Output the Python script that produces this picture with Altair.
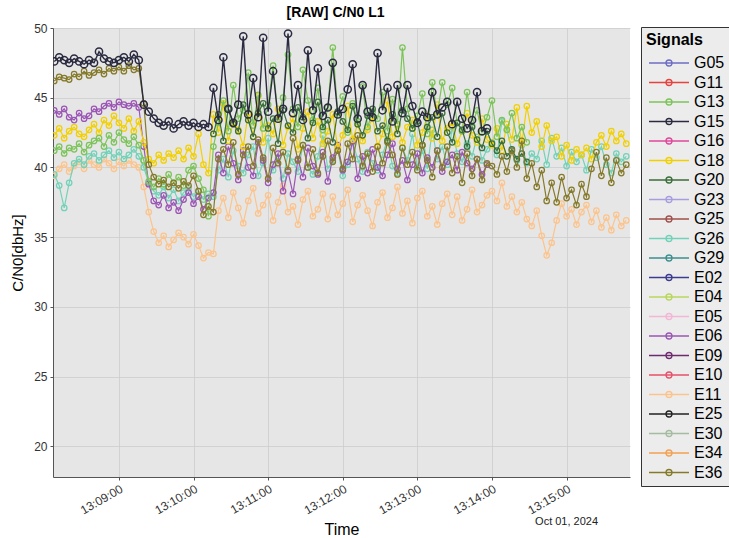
import altair as alt
import pandas as pd

FONT = "Liberation Sans"

SIGNALS = ["G05", "G11", "G13", "G15", "G16", "G18", "G20", "G23", "G25", "G26", "G29",
           "E02", "E04", "E05", "E06", "E09", "E10", "E11", "E25", "E30", "E34", "E36"]
COLORS = ["#6c6cc4", "#e8423f", "#7cc45a", "#2a2a40", "#e0489a", "#f2d000", "#3b6e3b",
          "#a79ee0", "#a0504a", "#72d2b8", "#3d8f8f", "#3b3b8f", "#b8d65c", "#f2b6d6",
          "#9b55b5", "#6e2a6e", "#e8506a", "#fcc48c", "#222222", "#a4bca0", "#f5a050",
          "#857a2a"]

START = "2024-10-01 13:08:08"   # first epoch
STEP_S = 4                      # seconds between samples

# C/N0 values [dB-Hz] per signal, consecutive epochs starting at the given epoch index
g15_start, g15 = 0, [
    47.6, 47.9, 47.7, 47.5, 47.8, 47.6, 47.4, 47.7, 47.5, 48.3, 47.8, 47.6, 47.5, 47.7, 47.9, 47.6, 48.1, 47.7,
    44.5, 44.0, 43.5, 43.2, 43.0, 43.3, 42.8, 43.1, 43.3, 43.0, 43.2, 42.9, 43.1, 42.9,
    45.7, 43.4, 47.9, 44.2, 43.2, 44.5, 49.4, 43.8, 46.4, 43.6, 49.3, 44.0, 46.9, 43.5, 44.2, 49.6,
    43.9, 45.9, 43.4, 48.4, 44.1, 47.1, 43.7, 44.3, 47.5, 43.8, 44.2, 45.6, 47.4, 43.5, 45.9, 44.0,
    43.6, 48.2, 44.1, 45.7, 43.3, 45.9, 43.9, 45.9, 44.4, 43.2, 44.0, 43.6, 45.4, 43.8, 44.3, 44.7,
    43.1, 44.7, 43.5, 42.8, 43.4, 45.4, 42.6, 42.8]
e36_start, e36 = 0, [
    46.2, 46.5, 46.4, 46.3, 46.7, 46.5, 46.9, 46.6, 46.8, 47.0, 46.7, 47.1, 46.9, 47.2, 46.9, 47.3, 47.0, 47.1,
    44.6, 40.2, 39.3, 38.8, 39.1, 38.6, 38.9, 38.5, 39.0, 38.7, 39.4, 38.3, 36.6, 37.2,
    36.8, 40.6, 41.3, 40.2, 41.8, 39.5, 40.9, 41.5, 40.1, 42.0, 40.7, 39.2, 41.4, 40.3, 41.1, 39.8,
    42.1, 40.5, 41.6, 40.0, 41.3, 39.6, 40.8, 41.9, 40.4, 41.2, 39.9, 41.7, 40.6, 42.3, 40.1, 41.0,
    39.7, 41.5, 40.3, 41.8, 40.9, 39.5, 41.4, 40.2, 41.1, 39.8, 41.6, 40.5, 39.3, 41.2, 40.0, 41.5,
    39.6, 40.8, 38.9, 41.0, 39.4, 40.6, 39.1, 40.3,
    40.1, 39.5, 40.8, 39.7, 41.2, 40.0, 41.9, 39.2, 40.3, 38.6, 39.8, 37.6, 38.9, 37.5, 39.3, 37.8,
    38.4, 37.3, 38.8, 37.9, 39.9, 41.1, 39.4, 40.7, 38.9, 40.5, 39.6, 40.2]
e06_start, e06 = 0, [
    44.1, 43.8, 44.2, 43.6, 43.4, 43.9, 43.5, 43.7, 44.2, 44.0, 44.4, 44.6, 44.3, 44.7, 44.5, 44.4, 44.6, 44.3,
    41.5, 38.8, 37.6, 37.3, 38.0, 37.1, 37.5, 36.9, 37.7, 38.2, 37.4, 37.9, 37.0, 37.8,
    38.2, 40.9, 39.6, 41.5, 40.3, 39.1, 41.2, 40.0, 39.4, 41.8, 40.5, 38.9, 40.2, 41.0, 38.3, 39.7,
    38.1, 40.6, 39.3, 41.4, 40.1, 39.5, 41.1, 39.0, 40.7, 41.6, 39.8, 40.4, 41.9, 39.2, 40.8, 39.6,
    41.3, 40.0, 39.4, 40.9, 41.7, 39.9, 40.5, 39.1, 40.2, 41.0, 39.6, 40.7, 40.0, 41.2, 39.7, 40.4,
    40.9, 39.8, 41.1, 40.3, 39.9, 40.6, 39.5, 40.2]
g18_start, g18 = 0, [
    42.3, 42.8, 42.1, 42.6, 42.9, 42.4, 42.2, 42.7, 43.1, 42.5, 43.4, 43.0, 43.7, 43.2, 42.8, 43.5, 42.6, 43.3,
    41.8, 40.6, 40.3, 40.9, 40.5, 41.0, 40.7, 41.2, 40.6, 41.4, 40.8, 42.4, 40.2, 39.6,
    43.8, 42.5, 44.6, 41.9, 43.2, 42.7, 41.5, 43.9, 42.2, 45.1, 41.8, 43.0, 42.4, 44.2, 41.6, 42.9,
    43.5, 41.3, 42.8, 44.0, 42.1, 43.3, 41.7, 42.6, 43.8, 41.4, 42.3, 44.4, 42.0, 43.1, 41.9, 42.7,
    43.6, 41.5, 42.4, 44.8, 42.2, 43.0, 41.8, 42.9, 43.4, 41.6, 42.5, 43.7, 42.1, 44.5, 41.9, 42.8,
    43.2, 41.7, 42.6, 43.9, 42.3, 41.8, 43.5, 42.0,
    41.6, 42.8, 41.2, 43.1, 42.0, 44.3, 41.7, 44.4, 42.5, 43.3, 41.5, 43.0, 41.9, 42.2, 40.8, 41.6,
    40.5, 41.3, 40.9, 41.4, 40.6, 41.8, 42.3, 41.5, 42.6, 41.9, 42.4, 41.7]
g13_start, g13 = 0, [
    41.2, 41.5, 41.0, 41.4, 41.3, 41.7, 41.1, 41.6, 41.9, 42.1, 41.5, 42.3, 41.8, 42.5, 42.0, 41.7, 42.2, 41.6,
    40.5, 39.0, 38.6, 39.2, 38.8, 39.5, 38.9, 39.3, 38.7, 39.8, 40.1, 39.2, 38.4, 36.5,
    41.5, 43.2, 44.8, 42.6, 45.9, 43.5, 44.1, 46.8, 43.0, 45.2, 42.8, 44.5, 47.3, 43.6, 45.0, 48.1,
    44.2, 42.9, 47.0, 44.8, 43.4, 45.7, 42.7, 44.3, 48.6, 43.9, 45.1, 42.5, 44.6, 43.3, 45.8, 42.9,
    44.0, 43.5, 45.4, 42.6, 44.9, 43.1, 48.6, 44.2, 42.8, 43.7, 45.3, 42.4, 46.1, 43.8, 46.1, 44.5,
    45.7, 43.2, 42.6, 45.4, 43.0, 44.1, 42.5, 43.6, 44.8, 42.2, 43.4, 42.7, 43.9, 42.1, 42.9, 41.8]
g26_start, g26 = 0, [
    39.5, 38.7, 37.1, 38.9, 40.3, 40.6, 40.2, 40.8, 41.0, 40.5, 40.9, 41.2, 40.7, 41.1, 40.6, 40.9, 41.3, 40.8,
    40.0, 38.9, 38.3, 38.0, 38.6, 37.8, 38.4, 37.6, 38.2, 38.5, 37.9, 38.3, 37.7, 38.1,
    37.9, 39.8, 40.6, 39.3, 41.2, 40.1, 39.6, 40.9, 41.5, 39.4, 40.3, 42.1, 39.8, 40.7, 39.2, 41.0,
    40.4, 39.7, 41.6, 40.0, 39.5, 40.8, 42.3, 39.9, 40.5, 41.3, 39.4, 40.2, 41.8, 40.6, 39.7, 41.1,
    40.3, 39.8, 40.9, 42.0, 40.1, 39.6, 41.4, 40.5, 42.4, 40.0, 41.2, 39.9, 42.7, 40.6, 41.5, 40.2,
    42.9, 41.0, 40.4, 41.7, 40.8, 42.2, 40.5, 41.3,
    41.8, 40.9, 43.3, 42.7, 41.2, 40.5, 41.6, 40.3, 41.0, 40.6, 41.9, 40.2, 42.1, 40.8, 41.4, 40.1,
    41.1, 40.4, 40.9, 39.8, 41.3, 40.7, 41.5, 40.2, 39.6, 41.0, 40.4, 40.8]
e11_start, e11 = 0, [
    39.4, 39.9, 40.2, 39.7, 40.1, 40.4, 39.9, 40.5, 40.2, 40.0, 40.6, 40.3, 39.9, 40.4, 40.1, 40.5, 40.2, 40.0,
    38.6, 36.8, 35.4, 34.6, 35.1, 34.3, 34.8, 35.3, 35.0, 34.5, 35.2, 34.4, 33.5, 33.9,
    33.8, 36.9, 37.8, 36.4, 38.2, 37.1, 36.0, 37.6, 38.5, 36.7, 37.3, 38.0, 36.2, 37.5, 38.7, 36.8,
    37.2, 35.9, 37.7, 38.3, 36.5, 37.0, 38.1, 36.3, 37.9, 36.6, 37.4, 38.4, 36.1, 37.3, 38.0, 36.9,
    35.8, 37.5, 38.2, 36.4, 37.1, 38.6, 36.7, 37.6, 36.0, 37.8, 38.3, 36.5, 37.2, 35.9, 37.4, 38.1,
    36.6, 37.9, 36.2, 37.0, 38.4, 36.8, 37.3, 38.0,
    38.3, 37.6, 38.9, 37.2, 37.9, 36.8, 37.5, 36.3, 35.8, 36.9, 35.1, 33.7, 34.6, 36.2, 37.4, 36.5,
    37.0, 35.9, 36.8, 37.3, 36.1, 36.9, 35.7, 36.4, 35.5, 36.6, 35.8, 36.2]
g20_start, g20 = 32, [
    42.4, 43.8, 41.9, 44.2, 43.1, 42.6, 44.5, 43.4, 42.2, 43.9, 44.6, 42.8, 43.5, 41.7, 44.1, 43.0,
    42.5, 44.3, 43.6, 42.1, 43.2, 44.7, 42.9, 43.4, 41.8, 44.0, 43.3, 42.7, 44.4, 43.1, 42.3, 43.7,
    44.2, 42.6, 43.0, 41.9, 43.8, 42.4, 44.1, 43.5, 42.8, 43.3, 41.6, 42.9, 43.6, 42.2, 43.9, 42.5,
    41.8, 43.2, 42.7, 41.5, 42.9, 42.0, 41.4, 42.6, 41.7, 41.2, 41.9, 40.8, 41.3, 40.6, 41.0, 40.4]

# drawing order, bottom to top
SERIES = [("E11", e11_start, e11), ("G26", g26_start, g26), ("E06", e06_start, e06),
          ("G18", g18_start, g18), ("G13", g13_start, g13), ("G20", g20_start, g20),
          ("E36", e36_start, e36), ("G15", g15_start, g15)]

t0 = pd.Timestamp(START)
frames = []
for name, start, vals in SERIES:
    idx = range(start, start + len(vals))
    frames.append(pd.DataFrame({
        "time": [t0 + pd.Timedelta(seconds=STEP_S * k) for k in idx],
        "cn0": vals,
        "signal": name,
    }))
df = pd.concat(frames, ignore_index=True)


def dt(h, m, s):
    return alt.DateTime(year=2024, month=10, date=1, hours=h, minutes=m, seconds=s)


x_enc = alt.X("time:T",
              scale=alt.Scale(domain=[dt(13, 8, 7), dt(13, 15, 51)], nice=False),
              axis=alt.Axis(values=[dt(13, mm, 0) for mm in range(9, 16)],
                            format="%H:%M:%S", labelAngle=-30, title="Time",
                            titleFontSize=16, titlePadding=6, labelFontSize=12,
                            labelPadding=3))
y_enc = alt.Y("cn0:Q", scale=alt.Scale(domain=[17.8, 50], nice=False, zero=False),
              axis=alt.Axis(values=[20, 25, 30, 35, 40, 45, 50], title="C/N0[dbHz]",
                            titleFontSize=15, titlePadding=8, labelFontSize=12,
                            labelPadding=3))

LEGEND_PATH = "M-1,0L7,0M2.4,0A0.6,0.6 0 1 1 3.6,0A0.6,0.6 0 1 1 2.4,0"
color_enc = alt.Color("signal:N", scale=alt.Scale(domain=SIGNALS, range=COLORS),
                      legend=alt.Legend(title="Signals", orient="none", legendX=588, legendY=-1,
                                        symbolType=LEGEND_PATH, symbolSize=100,
                                        symbolStrokeWidth=1.3, labelOffset=32,
                                        labelFontSize=16, titleFontSize=16,
                                        titleFontWeight="bold", rowPadding=3.5,
                                        padding=5, strokeColor="#333333",
                                        fillColor="#ececec", titlePadding=7,
                                        labelColor="black", titleColor="black"))

layers = []
for name, _, _ in SERIES:
    base = alt.Chart(df).transform_filter(alt.datum.signal == name).encode(
        x=x_enc, y=y_enc, color=color_enc)
    big = name == "G15"
    layers.append(base.mark_line(strokeWidth=1.4 if big else 1.2, clip=True))
    layers.append(base.mark_point(filled=False, size=52 if big else 30,
                                  strokeWidth=1.5 if big else 1.25, opacity=1, clip=True))

date_df = pd.DataFrame({"time": [pd.Timestamp("2024-10-01 13:15:00")], "label": ["Oct 01, 2024"]})
date_text = alt.Chart(date_df).mark_text(font=FONT, fontSize=11, color="#222222",
                                         baseline="middle", align="center").encode(
    x=alt.X("time:T"), y=alt.value(494), text="label:N")

chart = alt.layer(*layers, date_text).properties(
    width=577, height=449,
    autosize=alt.AutoSizeParams(type="none"),
    padding={"left": 53, "top": 28, "right": 99, "bottom": 61},
    title=alt.TitleParams("[RAW] C/N0 L1", font=FONT, fontSize=14, fontWeight="bold",
                          anchor="middle", frame="group", offset=2, color="black", dx=-6),
).configure_view(fill="#e6e6e6", stroke=None).configure_axis(
    labelFont=FONT, titleFont=FONT, labelColor="#333333", titleColor="black",
    titleFontWeight="normal", gridColor="#cdcdcd", gridWidth=0.8, domainColor="#555555",
    tickColor="#555555", tickSize=3, domainWidth=1
).configure_legend(labelFont=FONT, titleFont=FONT)

chart.save("out.html", embed_options={"renderer": "svg", "actions": False})
